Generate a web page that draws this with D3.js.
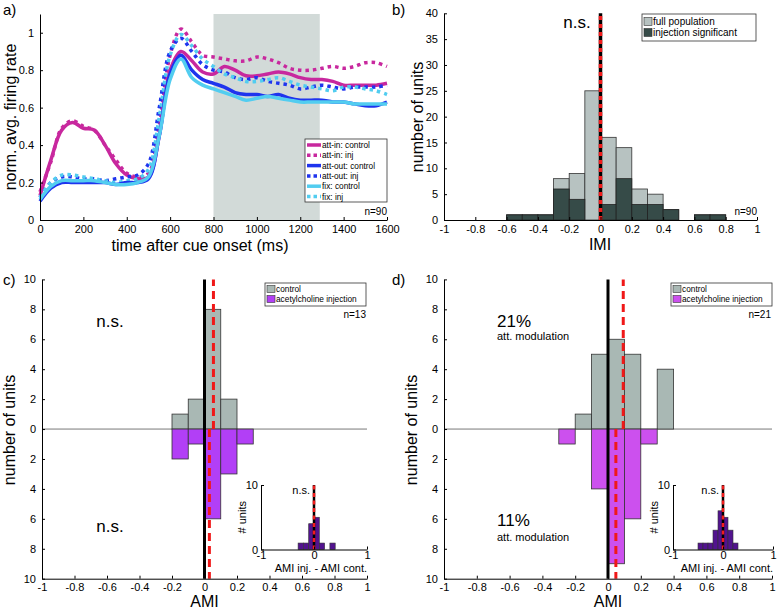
<!DOCTYPE html>
<html><head><meta charset="utf-8">
<script src="https://cdn.jsdelivr.net/npm/d3@7"></script>
<style>
body{margin:0;background:#fff;}
text{font-family:"Liberation Sans",Arial,Helvetica,sans-serif;fill:#000;}
.axis path,.axis line{stroke:#000;stroke-width:1;}
.axis text{font-size:11px;}
</style></head>
<body>
<svg id="c" width="778" height="610"></svg>
<script>
// ---------- DATA ----------
const times = [0,50,100,150,200,250,300,350,400,450,500,550,600,650,700,750,800,850,900,950,1000,1050,1100,1150,1200,1250,1300,1350,1400,1450,1500,1550,1600];
const attInControl = [0.13,0.32,0.48,0.52,0.49,0.48,0.40,0.30,0.24,0.22,0.23,0.45,0.80,0.90,0.85,0.79,0.78,0.82,0.80,0.77,0.77,0.78,0.79,0.78,0.76,0.75,0.75,0.74,0.72,0.72,0.72,0.72,0.73];
const attInInj     = [0.15,0.31,0.49,0.53,0.50,0.48,0.40,0.32,0.25,0.23,0.25,0.50,0.88,1.02,0.95,0.88,0.87,0.86,0.85,0.85,0.87,0.86,0.84,0.81,0.80,0.80,0.81,0.82,0.81,0.82,0.84,0.84,0.82];
const attOutControl= [0.10,0.17,0.20,0.20,0.20,0.20,0.20,0.19,0.20,0.20,0.22,0.45,0.78,0.88,0.80,0.75,0.73,0.71,0.68,0.67,0.67,0.66,0.67,0.65,0.64,0.64,0.64,0.63,0.63,0.62,0.61,0.61,0.63];
const attOutInj    = [0.12,0.20,0.23,0.23,0.22,0.22,0.21,0.22,0.23,0.24,0.30,0.60,0.90,0.97,0.90,0.83,0.80,0.79,0.76,0.75,0.76,0.74,0.73,0.72,0.70,0.71,0.72,0.71,0.70,0.71,0.71,0.71,0.72];
const fixControl   = [0.11,0.18,0.21,0.21,0.21,0.21,0.20,0.19,0.19,0.20,0.23,0.45,0.75,0.86,0.76,0.72,0.70,0.68,0.66,0.64,0.65,0.66,0.65,0.64,0.63,0.63,0.63,0.63,0.63,0.62,0.62,0.62,0.62];
const fixInj       = [0.12,0.20,0.24,0.24,0.23,0.22,0.21,0.20,0.21,0.22,0.27,0.55,0.88,0.99,0.93,0.86,0.82,0.78,0.76,0.74,0.74,0.75,0.76,0.74,0.72,0.71,0.70,0.69,0.71,0.71,0.70,0.69,0.67];
const seriesNames = ["att-in: control","att-in: inj","att-out: control","att-out: inj","fix: control","fix: inj"];
const shadedWindow = [800,1290];

// panel b histogram (bin starts, width 0.1)
const imiBins      = [-0.6,-0.5,-0.4,-0.3,-0.2,-0.1,0.0,0.1,0.2,0.3,0.4,0.5,0.6,0.7];
const imiFull      = [1,1,1,8,9,25,16,14,6,5,2,0,1,1];
const imiSig       = [1,1,1,6,4,0,3,8,3,3,2,0,1,1];

// panel c
const cBins        = [-0.2,-0.1,0.0,0.1,0.2];
const cControl     = [1,2,8,2,0];
const cInjection   = [2,1,6,3,1];
const cMeans       = {control:0.055, injection:0.03};
const cInsetBins   = [-0.3,-0.2,-0.1,0.0,0.1,0.2,0.3];
const cInsetCounts = [1,1,4,5,1,0,1];

// panel d
const dBins        = [-0.3,-0.2,-0.1,0.0,0.1,0.2,0.3];
const dControl     = [0,1,5,6,5,0,4];
const dInjection   = [1,0,4,9,6,1,0];
const dMeans       = {control:0.093, injection:0.048};
const dInsetBins   = [-0.5,-0.4,-0.3,-0.2,-0.1,0.0,0.1,0.2];
const dInsetCounts = [1,1,1,3,6,5,3,1];

const timeTicks = [0,200,400,600,800,1000,1200,1400,1600];
const rateTicks = [0,0.2,0.4,0.6,0.8,1];
const amiTicks  = [-1,-0.8,-0.6,-0.4,-0.2,0,0.2,0.4,0.6,0.8,1];
const countTicksB = [0,5,10,15,20,25,30,35,40];
const countTicksCD = [-10,-8,-6,-4,-2,0,2,4,6,8,10];

// ---------- DRAW ----------
const svg = d3.select("#c");
const fmt = d => (d===0?"0":String(d));

function axes(g, x, y, xt, yt, yfmt, xfmt){
  g.append("g").attr("class","axis").attr("transform",`translate(0,${y.range()[0]})`)
    .call(d3.axisBottom(x).tickValues(xt).tickSizeInner(-3).tickSizeOuter(0).tickPadding(5).tickFormat(xfmt||fmt));
  g.append("g").attr("class","axis").attr("transform",`translate(${x.range()[0]},0)`)
    .call(d3.axisLeft(y).tickValues(yt).tickSizeInner(-3).tickSizeOuter(0).tickPadding(6).tickFormat(yfmt||fmt));
}
function label(t,x,y,size,anchor,rot){
  const e = svg.append("text").attr("x",x).attr("y",y).attr("font-size",size).attr("text-anchor",anchor||"middle").text(t);
  if(rot) e.attr("transform",`rotate(-90,${x},${y})`);
  return e;
}

// ===== Panel a =====
{
  const x = d3.scaleLinear().domain([0,1600]).range([40,387]);
  const y = d3.scaleLinear().domain([0,1.1]).range([220,14]);
  const g = svg.append("g");
  g.append("rect").attr("x",x(shadedWindow[0])).attr("y",y(1.1)).attr("width",x(shadedWindow[1])-x(shadedWindow[0]))
    .attr("height",y(0)-y(1.1)).attr("fill","#d2dad8");
  const cols = ["#c8289e","#c8289e","#1f34ee","#1f34ee","#52cdf0","#52cdf0"];
  const data = [attInControl,attInInj,attOutControl,attOutInj,fixControl,fixInj];
  const line = d3.line().x((d,i)=>x(times[i])).y(d=>y(d)).curve(d3.curveCatmullRom);
  const order=[0,1,3,5,2,4];
  order.forEach(k=>{
    g.append("path").attr("d",line(data[k])).attr("fill","none").attr("stroke",cols[k])
      .attr("stroke-width",3.5).attr("stroke-dasharray",k%2? "3.5,4":null);
  });
  axes(g,x,y,timeTicks,rateTicks,d=>d===0?"0":(d===1?"1":d.toFixed(1)));
  // legend
  const lx=305, ly=139;
  g.append("rect").attr("x",lx).attr("y",ly).attr("width",82).attr("height",63).attr("fill","#fff").attr("stroke","#333").attr("stroke-width",0.8);
  seriesNames.forEach((n,i)=>{
    const yy = ly+6+i*10.3;
    g.append("line").attr("x1",lx+2).attr("x2",lx+16).attr("y1",yy).attr("y2",yy).attr("stroke",cols[i]).attr("stroke-width",3.5)
      .attr("stroke-dasharray",i%2?"3.5,3":null);
    g.append("text").attr("x",lx+17).attr("y",yy+3).attr("font-size",8.3).text(n);
  });
  label("n=90",387,215,10,"end");
  label("time after cue onset (ms)",200,251,16);
  label("norm. avg. firing rate",16,117,16,"middle",true);
  label("a)",3,15,15,"start");
}

// ===== Panel b =====
{
  const x = d3.scaleLinear().domain([-1,1]).range([444,757]);
  const y = d3.scaleLinear().domain([0,40]).range([220,13.3]);
  const g = svg.append("g");
  g.selectAll(".bf").data(imiBins).join("rect").attr("x",d=>x(d)).attr("width",d=>x(d+0.1)-x(d))
    .attr("y",(d,i)=>y(imiFull[i])).attr("height",(d,i)=>y(0)-y(imiFull[i]))
    .attr("fill","#b7c2c1").attr("stroke","#333").attr("stroke-width",0.8).attr("display",(d,i)=>imiFull[i]?null:"none");
  g.selectAll(".bs").data(imiBins).join("rect").attr("x",d=>x(d)).attr("width",d=>x(d+0.1)-x(d))
    .attr("y",(d,i)=>y(imiSig[i])).attr("height",(d,i)=>y(0)-y(imiSig[i]))
    .attr("fill","#364b48").attr("stroke","#222").attr("stroke-width",0.8).attr("display",(d,i)=>imiSig[i]?null:"none");
  g.append("line").attr("x1",x(0)).attr("x2",x(0)).attr("y1",y(0)).attr("y2",y(40)).attr("stroke","#000").attr("stroke-width",3.5);
  g.append("line").attr("x1",x(0)).attr("x2",x(0)).attr("y1",y(0)).attr("y2",y(40)).attr("stroke","#f21c1c").attr("stroke-width",3.5).attr("stroke-dasharray","4,4");
  axes(g,x,y,amiTicks,countTicksB,null,d=>d===0?"0":(Math.abs(d)===1?String(d):d.toFixed(1)));
  label("n.s.",577,28,17);
  const lx=642, ly=14;
  g.append("rect").attr("x",lx).attr("y",ly).attr("width",114).attr("height",27).attr("fill","#fff").attr("stroke","#333").attr("stroke-width",0.8);
  [["full population","#b7c2c1"],["injection significant","#364b48"]].forEach((e,i)=>{
    g.append("rect").attr("x",lx+2).attr("y",ly+3.5+i*11).attr("width",8).attr("height",8).attr("fill",e[1]).attr("stroke","#333").attr("stroke-width",0.6);
    g.append("text").attr("x",lx+11).attr("y",ly+11+i*11).attr("font-size",10).text(e[0]);
  });
  label("n=90",757,215,10,"end");
  label("IMI",600,250,16);
  label("number of units",423,117,16,"middle",true);
  label("b)",392,15,15,"start");
}

// ===== Panels c and d =====
function panelCD(opts){
  const x = d3.scaleLinear().domain([-1,1]).range(opts.xr);
  const y = d3.scaleLinear().domain([-10,10]).range([578.7,279.4]);
  const g = svg.append("g");
  g.append("line").attr("x1",x(-1)).attr("x2",x(1)).attr("y1",y(0)).attr("y2",y(0)).attr("stroke","#555").attr("stroke-width",0.8);
  g.selectAll(".ct").data(opts.bins).join("rect").attr("x",d=>x(d)).attr("width",d=>x(d+0.1)-x(d))
    .attr("y",(d,i)=>y(opts.control[i])).attr("height",(d,i)=>y(0)-y(opts.control[i]))
    .attr("fill","#a9b8b4").attr("stroke","#333").attr("stroke-width",0.8).attr("display",(d,i)=>opts.control[i]?null:"none");
  g.selectAll(".in").data(opts.bins).join("rect").attr("x",d=>x(d)).attr("width",d=>x(d+0.1)-x(d))
    .attr("y",y(0)).attr("height",(d,i)=>y(-opts.injection[i])-y(0))
    .attr("fill",opts.injColor).attr("stroke","#333").attr("stroke-width",0.8).attr("display",(d,i)=>opts.injection[i]?null:"none");
  g.append("line").attr("x1",x(0)).attr("x2",x(0)).attr("y1",y(-10)).attr("y2",y(10)).attr("stroke","#000").attr("stroke-width",3);
  g.append("line").attr("x1",x(opts.means.control)).attr("x2",x(opts.means.control)).attr("y1",y(0)).attr("y2",y(10))
    .attr("stroke","#f01818").attr("stroke-width",3).attr("stroke-dasharray","8,5");
  g.append("line").attr("x1",x(opts.means.injection)).attr("x2",x(opts.means.injection)).attr("y1",y(0)).attr("y2",y(-10))
    .attr("stroke","#f01818").attr("stroke-width",3).attr("stroke-dasharray","8,5");
  axes(g,x,y,amiTicks,countTicksCD,d=>String(Math.abs(d)),d=>d===0?"0":(Math.abs(d)===1?String(d):d.toFixed(1)));
  // legend
  const lx=opts.legX, ly=283;
  g.append("rect").attr("x",lx).attr("y",ly).attr("width",101).attr("height",23).attr("fill","#fff").attr("stroke","#333").attr("stroke-width",0.8);
  [["control","#a9b8b4"],["acetylcholine injection",opts.injColor]].forEach((e,i)=>{
    g.append("rect").attr("x",lx+2).attr("y",ly+2.5+i*10).attr("width",8).attr("height",7).attr("fill",e[1]).attr("stroke","#333").attr("stroke-width",0.6);
    g.append("text").attr("x",lx+11).attr("y",ly+9+i*10).attr("font-size",8.3).text(e[0]);
  });
  label(opts.n,opts.xr[1]-1,318,10,"end");
  label("AMI",x(0),607,16);
  label("number of units",opts.xr[0]-27,430,16,"middle",true);
  label(opts.tag,opts.tagX,285,15,"start");
  // inset
  const ix = d3.scaleLinear().domain([-1,1]).range(opts.ixr);
  const iy = d3.scaleLinear().domain([0,10]).range([549.5,485]);
  const ig = svg.append("g");
  ig.append("rect").attr("x",opts.ixr[0]-30).attr("y",480).attr("width",opts.ixr[1]-opts.ixr[0]+32).attr("height",95).attr("fill","#fff").attr("opacity",0);
  ig.selectAll(".ib").data(opts.ibins).join("rect").attr("x",d=>ix(d)).attr("width",d=>ix(d+0.1)-ix(d))
    .attr("y",(d,i)=>iy(opts.icounts[i])).attr("height",(d,i)=>iy(0)-iy(opts.icounts[i]))
    .attr("fill","#52138f").attr("stroke","#333").attr("stroke-width",0.6).attr("display",(d,i)=>opts.icounts[i]?null:"none");
  ig.append("line").attr("x1",ix(0)).attr("x2",ix(0)).attr("y1",iy(0)).attr("y2",iy(10)).attr("stroke","#000").attr("stroke-width",2.5);
  ig.append("line").attr("x1",ix(0)).attr("x2",ix(0)).attr("y1",iy(0)).attr("y2",iy(10)).attr("stroke","#f21c1c").attr("stroke-width",2.5).attr("stroke-dasharray","4,3.5");
  ig.append("g").attr("class","axis").attr("transform",`translate(0,${iy(0)})`)
    .call(d3.axisBottom(ix).tickValues([-1,0,1]).tickSizeInner(-3).tickSizeOuter(0).tickPadding(2).tickFormat(fmt));
  ig.append("g").attr("class","axis").attr("transform",`translate(${ix(-1)},0)`)
    .call(d3.axisLeft(iy).tickValues([0,10]).tickSizeInner(-3).tickSizeOuter(0).tickPadding(3).tickFormat(fmt));
  ig.selectAll(".axis text").attr("font-size",11);
  ig.append("text").attr("x",ix(0)-4).attr("y",iy(8.6)).attr("text-anchor","end").attr("font-size",11).text("n.s.");
  ig.append("text").attr("x",opts.ixr[1]).attr("y",572).attr("text-anchor","end").attr("font-size",11).text("AMI inj. - AMI cont.");
  ig.append("text").attr("x",opts.ixr[0]-15).attr("y",iy(5)).attr("text-anchor","middle").attr("font-size",11)
    .attr("transform",`rotate(-90,${opts.ixr[0]-15},${iy(5)})`).text("# units");
  return {g,x,y};
}

const pc = panelCD({xr:[42,367],bins:cBins,control:cControl,injection:cInjection,means:cMeans,injColor:"#b23ff6",
  legX:265,n:"n=13",tag:"c)",tagX:3,ixr:[261,367],ibins:cInsetBins,icounts:cInsetCounts});
label("n.s.",110,327,17);
label("n.s.",110,532,17);

const pd = panelCD({xr:[444,772],bins:dBins,control:dControl,injection:dInjection,means:dMeans,injColor:"#cc50ee",
  legX:671,n:"n=21",tag:"d)",tagX:392,ixr:[673,773],ibins:dInsetBins,icounts:dInsetCounts});
label("21%",497,327,17,"start");
label("att. modulation",497,340,11,"start");
label("11%",497,526,17,"start");
label("att. modulation",497,541,11,"start");
</script>
</body></html>
